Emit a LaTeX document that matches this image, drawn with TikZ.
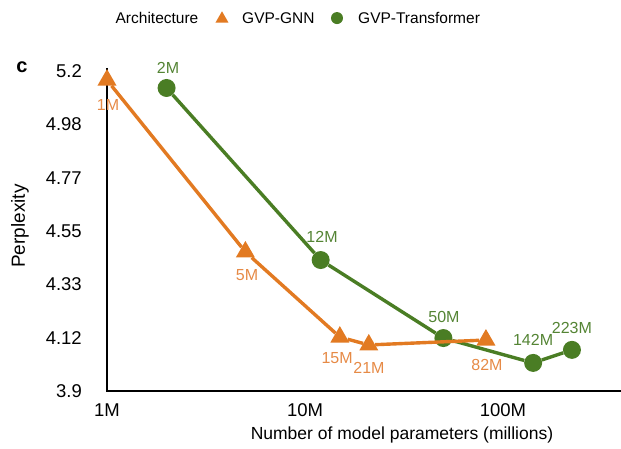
\documentclass[tikz,border=0pt]{standalone}
\usepackage{fontspec}
\setmainfont{Liberation Sans}
\usetikzlibrary{shapes.geometric}
\definecolor{gnnorange}{RGB}{226,122,34}
\definecolor{gnntext}{RGB}{230,138,70}
\definecolor{tfgreen}{RGB}{74,125,36}
\definecolor{tftext}{RGB}{84,132,52}
\tikzset{
  tri/.style={regular polygon,regular polygon sides=3,fill=gnnorange,inner sep=0pt,minimum size=22pt},
  dot/.style={circle,fill=tfgreen,inner sep=0pt,minimum size=18pt},
  gnnline/.style={draw=gnnorange,line width=3.4pt},
  tfline/.style={draw=tfgreen,line width=3.4pt},
  gnnlbl/.style={text=gnntext,inner sep=0pt,font=\fontsize{16}{18}\selectfont},
  tflbl/.style={text=tftext,inner sep=0pt,font=\fontsize{16}{18}\selectfont},
  ticklbl/.style={inner sep=0pt,font=\fontsize{18.5}{20}\selectfont},
  legendlbl/.style={inner sep=0pt,font=\fontsize{15.5}{18}\selectfont}
}

\begin{document}
\begin{tikzpicture}[x=198pt,y=246.15pt]
\useasboundingbox (-0.5404,3.6644) rectangle (2.596,5.4885);
% legend
\node[legendlbl] (arch) at (0.2525,5.415) {Architecture};
\node[tri,minimum size=15pt] (legtri) at (0.5808,5.412) {};
\node[legendlbl,anchor=west] (leggnn) at (0.6818,5.415) {GVP-GNN};
\node[dot,minimum size=12pt] (legdot) at (1.1616,5.415) {};
\node[legendlbl,anchor=west] (legtf) at (1.2677,5.415) {GVP-Transformer};
\node[inner sep=0pt,font=\fontsize{20}{22}\selectfont\bfseries] (panel) at (-0.4293,5.215) {c};
% axes
\coordinate (o) at (0,3.9);
\coordinate (ytop) at (0,5.213);
\coordinate (xend) at (2.596,3.9);
\draw[line width=2pt] (ytop) -- (o) -- (xend);
\foreach \k/\lab in {0/3.9,1/4.12,2/4.33,3/4.55,4/4.77,5/4.98,6/5.2}
  \node[ticklbl,anchor=east] (yt\k) at (-0.1263,{3.9+\k*1.3/6}) {\lab};
\foreach \k/\lab in {0/1M,1/10M,2/100M}
  \node[ticklbl] (xt\k) at (\k,3.8228) {\lab};
\node[ticklbl,font=\fontsize{17.5}{20}\selectfont] (xtitle) at (1.4899,3.7212) {Number of model parameters (millions)};
\node[ticklbl,font=\fontsize{19}{20}\selectfont,rotate=90] (ytitle) at (-0.4394,4.570) {Perplexity};
% GVP-Transformer
\node[dot] (t2) at ({log10(2)},5.131) {};
\node[dot] (t12) at ({log10(12)},4.432) {};
\node[dot] (t50) at ({log10(50)},4.115) {};
\node[dot] (t142) at ({log10(142)},4.014) {};
\node[dot] (t223) at ({log10(223)},4.067) {};
\draw[tfline] (t2) -- (t12) -- (t50) -- (t142) -- (t223);
% GVP-GNN
\node[tri] (g1) at (0,5.163) {};
\node[tri] (g5) at ({log10(5)},4.465) {};
\node[tri] (g15) at ({log10(15)},4.119) {};
\node[tri] (g21) at ({log10(21)},4.087) {};
\node[tri] (g82) at ({log10(82)},4.107) {};
\draw[gnnline] (g1) -- (g5) -- (g15) -- (g21) -- (g82);
% point labels
\node[gnnlbl] (l1) at (0.005,5.062) {1M};
\node[gnnlbl] (l5) at (0.707,4.371) {5M};
\node[gnnlbl] (l15) at (1.162,4.034) {15M};
\node[gnnlbl] (l21) at (1.323,3.993) {21M};
\node[gnnlbl] (l82) at (1.919,4.006) {82M};
\node[tflbl] (l2) at (0.308,5.212) {2M};
\node[tflbl] (l12) at (1.086,4.526) {12M};
\node[tflbl] (l50) at (1.702,4.201) {50M};
\node[tflbl] (l142) at (2.152,4.107) {142M};
\node[tflbl] (l223) at (2.348,4.156) {223M};
\end{tikzpicture}
\end{document}
